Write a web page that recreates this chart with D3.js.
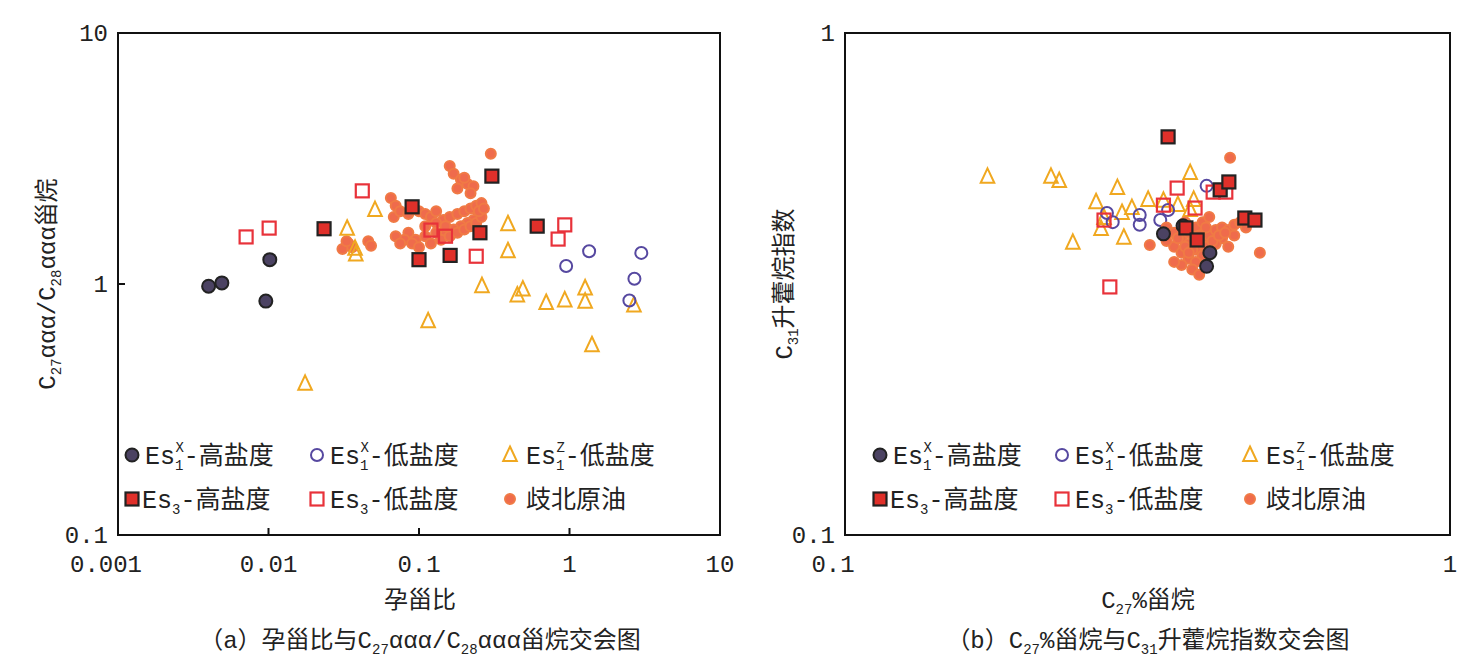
<!DOCTYPE html>
<html><head><meta charset="utf-8">
<script src="https://cdn.jsdelivr.net/npm/d3@7"></script>
<style>body{margin:0;background:#fff}text{font-family:"Liberation Mono","Noto Sans CJK SC",monospace;fill:#222}</style>
</head><body><div id="plot"></div>
<script>
// panel (a): pregnane ratio vs C27/C28 steranes
var aHighX = [[0.0040,0.98],[0.0049,1.01],[0.0096,0.855],[0.0102,1.25]];
var aLowX = [[0.95,1.18],[1.35,1.35],[2.5,0.86],[2.7,1.05],[3.0,1.33]];
var aLowZ = [[0.0175,0.40],[0.0333,1.66],[0.0376,1.38],[0.038,1.31],[0.051,1.97],[0.115,0.71],[0.262,0.98],[0.39,1.73],[0.39,1.35],
  [0.45,0.90],[0.49,0.95],[0.70,0.84],[0.93,0.86],[1.27,0.96],[1.27,0.85],[1.41,0.57],[2.68,0.82]];
var a3High = [[0.0234,1.66],[0.090,2.03],[0.10,1.25],[0.161,1.30],[0.254,1.60],[0.305,2.69],[0.61,1.70]];
var a3Low = [[0.0071,1.54],[0.0101,1.67],[0.042,2.35],[0.12,1.64],[0.15,1.55],[0.24,1.29],[0.84,1.51],[0.93,1.72]];
var aQibei = [[0.30,3.30],[0.16,2.95],[0.17,2.75],[0.19,2.6],[0.21,2.5],[0.20,2.65],[0.23,2.45],[0.18,2.4],[0.22,2.3],
  [0.065,2.2],[0.07,2.05],[0.068,1.85],[0.075,1.95],[0.085,1.9],[0.10,1.95],[0.11,1.9],[0.12,1.85],[0.13,1.95],[0.145,1.8],
  [0.16,1.85],[0.18,1.9],[0.2,1.95],[0.22,2.0],[0.24,2.05],[0.26,2.1],[0.25,1.9],[0.23,1.8],[0.21,1.75],[0.19,1.7],
  [0.17,1.65],[0.15,1.6],[0.13,1.6],[0.11,1.55],[0.095,1.5],[0.085,1.6],[0.08,1.5],[0.09,1.45],[0.10,1.4],[0.12,1.45],
  [0.14,1.5],[0.16,1.55],[0.18,1.6],[0.2,1.65],[0.22,1.7],[0.24,1.75],[0.26,1.85],[0.07,1.55],[0.075,1.45],[0.11,1.7],
  [0.13,1.75],[0.15,1.7],[0.25,1.95],[0.27,2.0],[0.034,1.45],[0.036,1.4],[0.031,1.38],[0.033,1.48],[0.046,1.48],[0.048,1.42]];
// panel (b): C27% steranes vs C31 homohopane index
var bHighX = [[0.336,0.398],[0.362,0.413],[0.401,0.365],[0.396,0.343]];
var bLowX = [[0.271,0.438],[0.277,0.42],[0.307,0.434],[0.307,0.415],[0.332,0.424],[0.396,0.496],[0.342,0.444]];
var bLowZ = [[0.172,0.517],[0.219,0.517],[0.226,0.507],[0.238,0.382],[0.26,0.46],[0.265,0.407],[0.268,0.428],[0.282,0.491],
  [0.287,0.438],[0.289,0.391],[0.298,0.448],[0.317,0.465],[0.336,0.463],[0.355,0.454],[0.372,0.526],[0.372,0.444],[0.377,0.465]];
var b3High = [[0.342,0.621],[0.417,0.487],[0.431,0.505],[0.458,0.428],[0.476,0.424],[0.366,0.409],[0.382,0.387]];
var b3Low = [[0.268,0.424],[0.274,0.312],[0.336,0.454],[0.354,0.491],[0.379,0.448],[0.406,0.482],[0.426,0.482]];
var bQibei = [[0.433,0.564],[0.485,0.365],[0.319,0.378],[0.34,0.41],[0.35,0.4],[0.36,0.39],[0.37,0.38],[0.38,0.37],[0.39,0.36],
  [0.35,0.375],[0.36,0.365],[0.37,0.355],[0.38,0.35],[0.39,0.385],[0.40,0.395],[0.41,0.405],[0.42,0.41],[0.43,0.405],
  [0.44,0.415],[0.45,0.42],[0.46,0.41],[0.42,0.39],[0.41,0.38],[0.40,0.37],[0.37,0.4],[0.38,0.41],[0.39,0.42],[0.40,0.43],
  [0.36,0.345],[0.375,0.338],[0.385,0.33],[0.35,0.35],[0.44,0.395],[0.43,0.375],[0.34,0.385],[0.365,0.42],[0.395,0.41],
  [0.355,0.39],[0.365,0.375],[0.375,0.37],[0.385,0.395],[0.395,0.375],[0.405,0.385],[0.415,0.395],[0.425,0.4],[0.37,0.365],[0.38,0.385]];

var W = 1476, H = 668;
var svg = d3.select("#plot").append("svg").attr("width", W).attr("height", H);

var styles = {
  highX: {shape: "circle", fill: "#4b4262", stroke: "#222", r: 6.5},
  lowX: {shape: "circle", fill: "none", stroke: "#5648a0", r: 6},
  lowZ: {shape: "tri", fill: "none", stroke: "#f0a820", r: 8.5},
  high3: {shape: "sq", fill: "#e0302a", stroke: "#222", r: 6.5},
  low3: {shape: "sq", fill: "none", stroke: "#e8323a", r: 6.5},
  qibei: {shape: "circle", fill: "#ef6b4c", stroke: "#f07a45", r: 5}
};

function mark(g, cx, cy, s) {
  if (s.shape == "circle") {
    g.append("circle").attr("cx", cx).attr("cy", cy).attr("r", s.r).attr("fill", s.fill).attr("stroke", s.stroke).attr("stroke-width", 2);
  } else if (s.shape == "sq") {
    g.append("rect").attr("x", cx - s.r).attr("y", cy - s.r).attr("width", 2 * s.r).attr("height", 2 * s.r)
      .attr("fill", s.fill).attr("stroke", s.stroke).attr("stroke-width", 2.2);
  } else {
    var r = s.r;
    g.append("path").attr("d", "M" + cx + "," + (cy - r) + "L" + (cx + r * 0.8) + "," + (cy + r * 0.7) + "L" + (cx - r * 0.8) + "," + (cy + r * 0.7) + "Z")
      .attr("fill", s.fill).attr("stroke", s.stroke).attr("stroke-width", 2);
  }
}

function esText(x, y, sub, sup, rest) {
  var el = svg.append("text").attr("x", x).attr("y", y).style("font-size", "25px");
  el.append("tspan").text("Es");
  el.append("tspan").text(sub).style("font-size", "14px").attr("dy", 6);
  if (sup) el.append("tspan").text(sup).style("font-size", "14px").attr("dx", -8).attr("dy", -18);
  el.append("tspan").text(rest).attr("dy", sup ? 12 : -6);
}

function panel(opt) {
  var x = d3.scaleLog().domain(opt.xd).range([opt.x0, opt.x1]);
  var y = d3.scaleLog().domain(opt.yd).range([535, 33]);
  var g = svg.append("g");
  g.append("rect").attr("x", opt.x0).attr("y", 33).attr("width", opt.x1 - opt.x0).attr("height", 502)
    .attr("fill", "none").attr("stroke", "#111").attr("stroke-width", 2);
  var isDec = function(v) { return Math.abs(Math.log10(v) - Math.round(Math.log10(v))) < 1e-6; };
  x.ticks().filter(isDec).forEach(function(v) {
    g.append("line").attr("x1", x(v)).attr("x2", x(v)).attr("y1", 535).attr("y2", 528).attr("stroke", "#111").attr("stroke-width", 2);
    g.append("text").attr("x", x(v) + (v == opt.xd[0] ? -12 : 0)).attr("y", 572).attr("text-anchor", "middle").style("font-size", "24px").text(fmt(v));
  });
  y.ticks().filter(isDec).forEach(function(v) {
    g.append("line").attr("x1", opt.x0).attr("x2", opt.x0 + 7).attr("y1", y(v)).attr("y2", y(v)).attr("stroke", "#111").attr("stroke-width", 2);
    g.append("text").attr("x", opt.x0 - 10).attr("y", y(v) + 8).attr("text-anchor", "end").style("font-size", "24px").text(fmt(v));
  });
  opt.sets.forEach(function(s) {
    s[0].forEach(function(d) { mark(g, x(d[0]), y(d[1]), styles[s[1]]); });
  });
}

var fmt = function(v) { return v >= 1 ? String(Math.round(v)) : String(+v.toPrecision(1)); };
panel({x0: 118, x1: 720, xd: [0.001, 10], yd: [0.1, 10],
  sets: [[aQibei, "qibei"], [aLowZ, "lowZ"], [aLowX, "lowX"], [aHighX, "highX"], [a3Low, "low3"], [a3High, "high3"]]});
panel({x0: 845, x1: 1450, xd: [0.1, 1], yd: [0.1, 1],
  sets: [[bLowZ, "lowZ"], [bLowX, "lowX"], [b3Low, "low3"], [bQibei, "qibei"], [bHighX, "highX"], [b3High, "high3"]]});

// legends
function legend(x0, cols) {
  mark(svg, x0 + 12, 455, styles.highX); esText(x0 + 25, 464, "1", "X", "-高盐度");
  mark(svg, x0 + cols[0] + 12, 455, styles.lowX); esText(x0 + cols[0] + 25, 464, "1", "X", "-低盐度");
  mark(svg, x0 + cols[1] + 12, 455, styles.lowZ); esText(x0 + cols[1] + 28, 464, "1", "Z", "-低盐度");
  mark(svg, x0 + 12, 499, styles.high3); esText(x0 + 22, 508, "3", null, "-高盐度");
  mark(svg, x0 + cols[0] + 12, 499, styles.low3); esText(x0 + cols[0] + 25, 508, "3", null, "-低盐度");
  mark(svg, x0 + cols[1] + 12, 499, styles.qibei);
  svg.append("text").attr("x", x0 + cols[1] + 28).attr("y", 508).style("font-size", "25px").text("歧北原油");
}
legend(120, [185, 378]);
legend(868, [182, 370]);

// axis titles
function subLabel(x, y, rot, parts) {
  var t = svg.append("text").attr("text-anchor", "middle").style("font-size", "24px")
    .attr("transform", "translate(" + x + "," + y + ") rotate(" + rot + ")");
  parts.forEach(function(p) {
    var s = t.append("tspan").text(p[0]);
    if (p[1] == "sub") s.style("font-size", "14px").attr("dy", 6);
    if (p[1] == "back") s.attr("dy", -6);
  });
}
subLabel(55, 284, -90, [["C"], ["27", "sub"], ["ααα/C", "back"], ["28", "sub"], ["ααα甾烷", "back"]]);
subLabel(792, 284, -90, [["C"], ["31", "sub"], ["升藿烷指数", "back"]]);
svg.append("text").attr("x", 420).attr("y", 608).attr("text-anchor", "middle").style("font-size", "24px").text("孕甾比");
subLabel(1148, 608, 0, [["C"], ["27", "sub"], ["%甾烷", "back"]]);
subLabel(420, 648, 0, [["（a）孕甾比与C"], ["27", "sub"], ["ααα/C", "back"], ["28", "sub"], ["ααα甾烷交会图", "back"]]);
subLabel(1148, 648, 0, [["（b）C"], ["27", "sub"], ["%甾烷与C", "back"], ["31", "sub"], ["升藿烷指数交会图", "back"]]);
</script></body></html>
